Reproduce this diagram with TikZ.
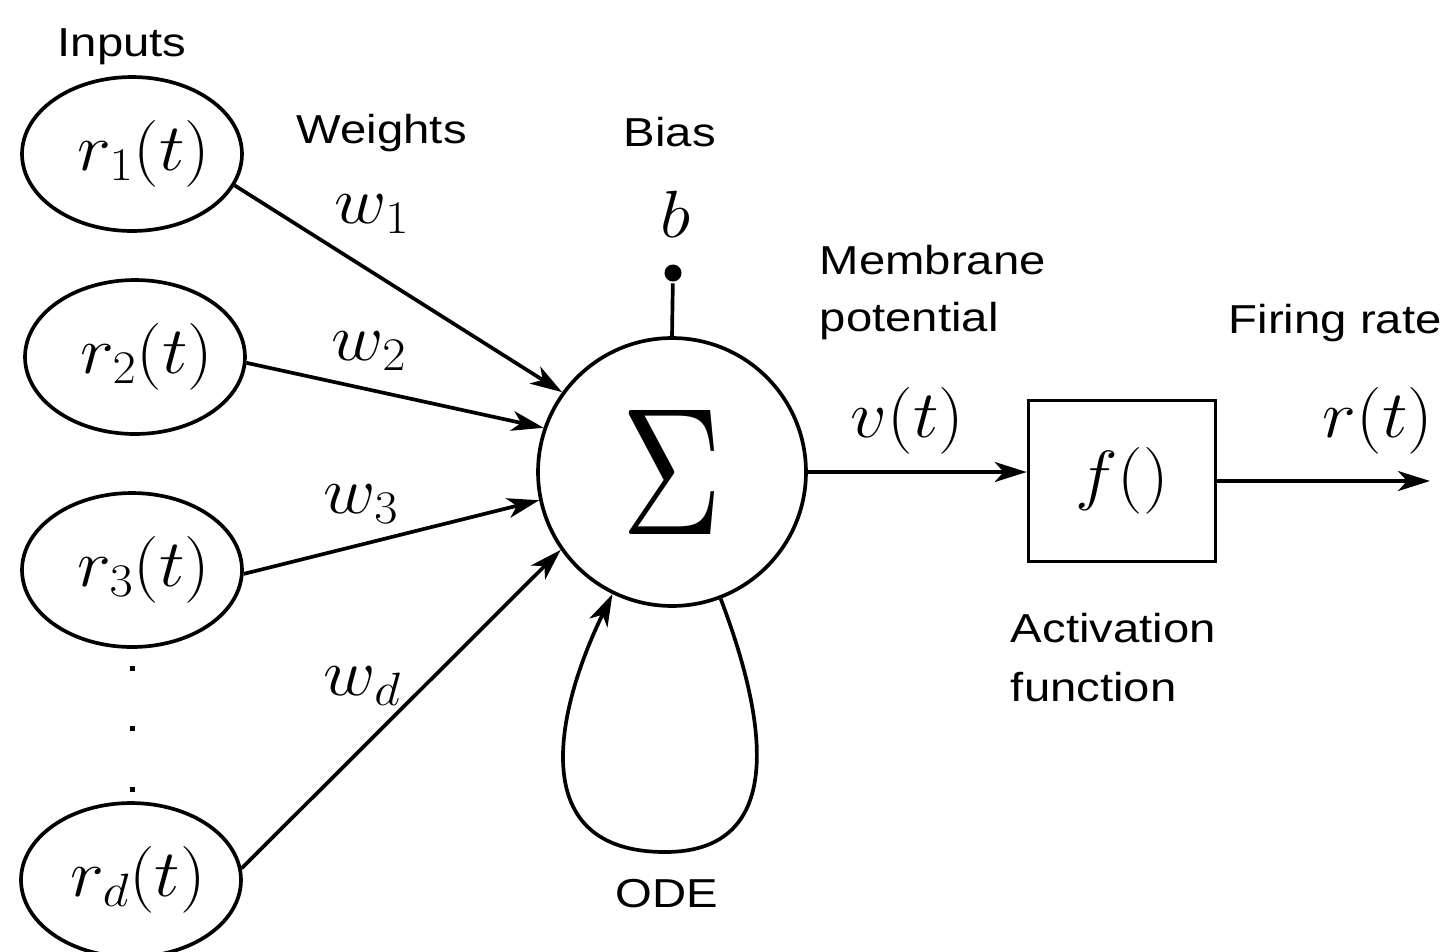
\RequirePackage{fix-cm}
\documentclass[tikz,border=0pt]{standalone}
\usepackage{fontspec}
\usepackage{graphicx}
\usetikzlibrary{shapes.geometric,arrows.meta}
\newfontfamily\labfont{Liberation Sans}[FakeStretch=1.17]
\newcommand{\mth}[1]{\scalebox{1.08}[1]{$#1$}}
\newcommand{\shifted}[2]{\makebox[0pt]{\hspace{#1}\mth{#2}}}
\begin{document}
\begin{tikzpicture}[x=0.02cm,y=-0.02cm,
  line width=2.1pt,
  arr/.style={-{Stealth[length=0.64cm,width=0.4cm,inset=0.18cm]}},
  inp/.style={ellipse, draw, minimum width=4.4cm, minimum height=3.08cm, inner sep=0pt, font=\fontsize{38}{45}\selectfont},
  lab/.style={anchor=base west, inner sep=0pt, font=\labfont\fontsize{23}{28}\selectfont},
  mlab/.style={anchor=base west, inner sep=0pt, font=\fontsize{38}{45}\selectfont},
  sumnode/.style={circle, draw, minimum size=5.36cm, inner sep=0pt},
  actbox/.style={rectangle, draw, minimum width=3.74cm, minimum height=3.22cm, inner sep=0pt, font=\fontsize{38}{45}\selectfont},
  dotsq/.style={rectangle, fill, minimum size=0.1cm, inner sep=0pt},
  biasdot/.style={circle, fill, minimum size=0.34cm, inner sep=0pt}
]
\useasboundingbox (0,0) rectangle (1443,951);

% input nodes
\node[inp] (r1) at (132,154) {\shifted{0.48cm}{r_1(t)}};
\node[inp] (r2) at (135,357) {\shifted{0.48cm}{r_2(t)}};
\node[inp] (r3) at (132,570) {\shifted{0.48cm}{r_3(t)}};
\node[inp] (rd) at (131,880) {\shifted{0.3cm}{r_d(t)}};
\node[dotsq] (d1) at (132,668) {};
\node[dotsq] (d2) at (132,728) {};
\node[dotsq] (d3) at (132,789) {};

% summation
\node[sumnode] (sum) at (672,472) {\resizebox{2.02cm}{2.48cm}{$\Sigma$}};
\node[biasdot] (bdot) at (673,273) {};
\node[actbox] (act) at (1122,481) {\mth{f()}};
\coordinate (outend) at (1430,481);
\coordinate (odebot) at (665,852);

% connectors
\draw[arr] (r1.-17) -- (sum.144);
\draw[arr] (r2.-3) -- (sum.161);
\draw[arr] (r3.-2) -- (sum.-168);
\draw[arr] (rd.6) -- (sum.-145);
\draw (sum.north) -- (bdot);
\draw[arr] (sum.-69) .. controls (765,715) and (790,852) .. (odebot)
  .. controls (525,852) and (555,712) .. (sum.-116);
\draw[arr] (sum.east) -- (sum.east -| act.west);
\draw[arr] (act.east) -- (outend);

% labels
\node[lab] (tin) at (56,56) {Inputs};
\node[lab] (tw) at (295,143) {Weights};
\node[lab] (tb) at (622,146) {Bias};
\node[lab] (tm1) at (818,274) {Membrane};
\node[lab] (tm2) at (818,331) {potential};
\node[lab] (tf) at (1227,333) {Firing rate};
\node[lab] (ta1) at (1009,642) {Activation};
\node[lab] (ta2) at (1009,701) {function};
\node[lab] (tode) at (614,907) {ODE};

\node[mlab] (w1) at (333,223) {\mth{w_1}};
\node[mlab] (w2) at (330,360) {\mth{w_2}};
\node[mlab] (w3) at (322,513) {\mth{w_3}};
\node[mlab] (wd) at (322,695) {\mth{w_d}};
\node[mlab] (bb) at (659,237) {\mth{b}};
\node[mlab] (vt) at (849,437) {\mth{v(t)}};
\node[mlab] (rt) at (1321,437) {\mth{r(t)}};
\end{tikzpicture}
\end{document}
